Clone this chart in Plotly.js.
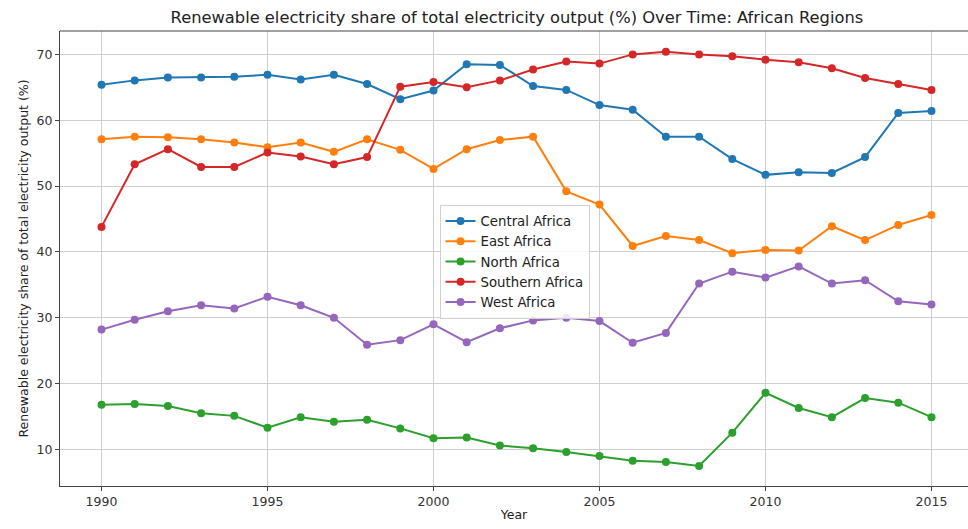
<!DOCTYPE html>
<html>
<head>
<meta charset="utf-8">
<script src="https://cdn.plot.ly/plotly-3.0.1.min.js"></script>
<style>html,body{margin:0;padding:0;background:#fff;}#chart{width:968px;height:529px;}</style>
</head>
<body>
<div id="chart"></div>
<script>
const years = [1990,1991,1992,1993,1994,1995,1996,1997,1998,1999,2000,2001,2002,2003,2004,2005,2006,2007,2008,2009,2010,2011,2012,2013,2014,2015];
const centralAfrica = [65.4,66.05,66.5,66.5,66.6,66.9,66.2,66.9,65.5,63.2,64.5,68.5,68.4,65.2,64.6,62.3,61.6,57.5,57.5,54.1,51.7,52.1,52.0,54.4,61.1,61.4];
const eastAfrica = [57.1,57.5,57.4,57.1,56.6,55.9,56.6,55.2,57.1,55.5,52.6,55.6,57.0,57.5,49.2,47.2,40.9,42.4,41.8,39.8,40.3,40.2,43.9,41.8,44.1,45.6];
const northAfrica = [16.8,16.9,16.6,15.5,15.1,13.3,14.9,14.2,14.5,13.2,11.7,11.8,10.6,10.2,9.6,9.0,8.3,8.1,7.5,12.55,18.6,16.3,14.9,17.8,17.1,14.9];
const southernAfrica = [43.8,53.3,55.6,52.9,52.9,55.1,54.5,53.3,54.4,65.1,65.8,65.0,66.05,67.7,68.9,68.6,70.0,70.4,70.0,69.7,69.2,68.8,67.9,66.4,65.5,64.6];
const westAfrica = [28.2,29.7,31.0,31.9,31.4,33.2,31.9,30.0,25.9,26.6,29.0,26.3,28.4,29.6,30.0,29.5,26.2,27.7,35.2,37.0,36.1,37.8,35.2,35.7,32.5,32.0];
const seriesNames = ["Central Africa","East Africa","North Africa","Southern Africa","West Africa"];
const seriesValues = [centralAfrica, eastAfrica, northAfrica, southernAfrica, westAfrica];
const colors = ["#1f77b4","#ff7f0e","#2ca02c","#d62728","#9467bd"];
const xTicks = [1990,1995,2000,2005,2010,2015];
const yTicks = [10,20,30,40,50,60,70];

const traces = seriesNames.map((n,i)=>({
  x: years, y: seriesValues[i], name: n, type:'scatter', mode:'lines+markers',
  line:{color:colors[i], width:2}, marker:{color:colors[i], size:8}
}));

const font = "DejaVu Sans, sans-serif";
const layout = {
  width:968, height:529,
  margin:{l:60, r:0, t:31, b:43},
  paper_bgcolor:'#fff', plot_bgcolor:'#fff',
  font:{family:font, size:12.5, color:'#333'},
  title:{text:"Renewable electricity share of total electricity output (%) Over Time: African Regions",
         font:{family:font, size:16.3, color:'#222'}, x:0.534, xanchor:'center', y:0.967, yanchor:'middle'},
  xaxis:{range:[1988.75, 2016.1], tickvals:xTicks, ticktext:xTicks.map(String),
         showgrid:true, gridcolor:'#cfcfcf', gridwidth:1, zeroline:false,
         showline:true, linecolor:'#444', linewidth:1, ticks:'outside', ticklen:4, tickcolor:'#444',
         tickfont:{family:font, size:12.5, color:'#333'},
         title:{text:'Year', font:{family:font, size:12.5, color:'#222'}, standoff:2}},
  yaxis:{range:[4.45, 73.55], tickvals:yTicks, ticktext:yTicks.map(String),
         showgrid:true, gridcolor:'#cfcfcf', gridwidth:1, zeroline:false,
         showline:true, linecolor:'#444', linewidth:1, ticks:'outside', ticklen:4, tickcolor:'#444',
         tickfont:{family:font, size:12.5, color:'#333'},
         title:{text:'Renewable electricity share of total electricity output (%)', font:{family:font, size:12.5, color:'#222'}, standoff:5}},
  legend:{x:0.418, y:0.618, xanchor:'left', yanchor:'top', bgcolor:'rgba(255,255,255,0.85)',
          bordercolor:'#d0d0d0', borderwidth:1, font:{family:font, size:13.3, color:'#222'}},
  shapes:[{type:'line', xref:'paper', yref:'paper', x0:0, x1:1, y0:1, y1:1, line:{color:'#444', width:1}}],
  showlegend:true
};
Plotly.newPlot('chart', traces, layout, {displayModeBar:false, staticPlot:true});
</script>
</body>
</html>
